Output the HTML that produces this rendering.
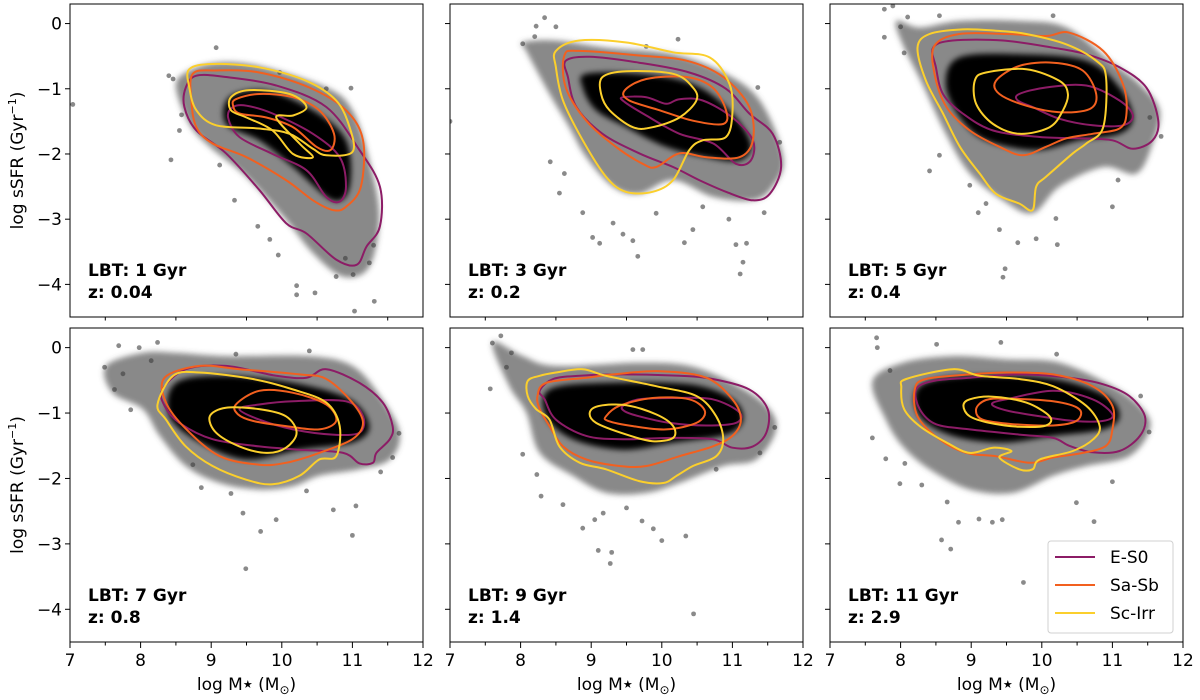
<!DOCTYPE html>
<html><head><meta charset="utf-8"><title>sSFR vs stellar mass</title>
<style>
html,body{margin:0;padding:0;background:#fff;}
svg{display:block;font-family:"DejaVu Sans","Liberation Sans",sans-serif;}
</style></head>
<body>
<svg id="fig" width="1200" height="700" viewBox="0 0 1200 700" xmlns="http://www.w3.org/2000/svg">
<defs><filter id="soft" x="-10%" y="-10%" width="120%" height="120%"><feGaussianBlur stdDeviation="3"/></filter></defs>
</svg>
<script>
// ---- axis ticks ----
const xTicks = [7, 8, 9, 10, 11, 12];
const xMinor = [7.5, 8.5, 9.5, 10.5, 11.5];
const yTicks = [0, -1, -2, -3, -4];
const xDomain = [7, 12];
const yDomain = [-4.5, 0.3];
const seriesNames = ["E-S0", "Sa-Sb", "Sc-Irr"];
const lbtLabels = ["LBT: 1 Gyr", "LBT: 3 Gyr", "LBT: 5 Gyr", "LBT: 7 Gyr", "LBT: 9 Gyr", "LBT: 11 Gyr"];
const zLabels = ["z: 0.04", "z: 0.2", "z: 0.4", "z: 0.8", "z: 1.4", "z: 2.9"];

// ---- panel 1 ----
const p1Cloud = [8.64,-0.75, 9.07,-0.60, 9.68,-0.65, 10.63,-0.98, 11.0,-1.33, 11.24,-2.10, 11.38,-2.96, 11.24,-3.73, 10.87,-3.88, 10.44,-3.52, 10.06,-3.01, 9.5,-2.35, 8.98,-1.89, 8.69,-1.54, 8.5,-0.98];
const p1Core = [9.26,-1.13, 9.78,-1.03, 10.44,-1.33, 10.91,-1.79, 10.96,-2.50, 10.72,-2.71, 10.16,-2.2, 9.68,-1.79, 9.21,-1.54];
const p1Es0Out = [8.64,-0.98, 8.79,-0.80, 9.21,-0.82, 9.92,-0.95, 10.63,-1.28, 11.10,-1.94, 11.39,-2.50, 11.39,-3.11, 11.2,-3.42, 11.06,-3.70, 10.77,-3.62, 10.35,-3.22, 10.06,-3.06, 9.68,-2.55, 9.21,-1.99, 8.79,-1.64, 8.62,-1.28];
const p1Es0In = [9.31,-1.28, 9.50,-1.26, 9.87,-1.38, 10.44,-1.69, 10.82,-2.05, 10.91,-2.50, 10.82,-2.73, 10.63,-2.66, 10.35,-2.25, 9.87,-2.0, 9.40,-1.74, 9.24,-1.44];
const p1SaOut = [8.74,-0.77, 9.07,-0.72, 9.68,-0.75, 10.39,-0.98, 10.91,-1.33, 11.15,-1.79, 11.12,-2.50, 10.91,-2.81, 10.73,-2.86, 10.44,-2.71, 10.06,-2.40, 9.50,-2.05, 9.02,-1.84, 8.79,-1.59, 8.72,-1.18];
const p1SaIn = [9.35,-1.16, 9.68,-1.08, 10.16,-1.13, 10.53,-1.33, 10.74,-1.69, 10.69,-1.94, 10.49,-1.89, 10.16,-1.59, 9.78,-1.44, 9.40,-1.38, 9.31,-1.26];
const p1ScOut = [8.69,-0.70, 9.02,-0.62, 9.68,-0.67, 10.35,-0.88, 10.77,-1.18, 10.96,-1.59, 11.0,-1.97, 10.63,-2.02, 10.44,-1.92, 10.11,-1.69, 9.68,-1.61, 9.07,-1.56, 8.79,-1.33, 8.69,-0.98];
const p1ScIn = [9.28,-1.13, 9.54,-1.02, 10.11,-1.08, 10.35,-1.28, 10.16,-1.41, 9.92,-1.44, 10.25,-1.84, 10.44,-2.05, 10.16,-2.0, 9.87,-1.64, 9.50,-1.44, 9.28,-1.33];
const p1Pts = [9.07,-0.37, 7.04,-1.24, 8.43,-2.09, 9.12,-2.17, 9.33,-2.71, 9.66,-3.11, 9.83,-3.31, 9.95,-3.55, 10.21,-4.02, 10.21,-4.16, 10.47,-4.13, 11.01,-3.85, 11.31,-4.26, 11.03,-4.41, 10.77,-3.88, 11.24,-3.67, 8.55,-1.64, 8.46,-0.85, 9.97,-0.75, 10.63,-1.0, 10.98,-0.99, 8.40,-0.80, 8.58,-1.40, 10.90,-3.60, 11.30,-3.40];

// ---- panel 2 ----
const p2Cloud = [8.03,-0.29, 8.50,-0.26, 9.21,-0.37, 10.16,-0.47, 10.87,-0.75, 11.39,-1.18, 11.72,-2.05, 11.57,-2.50, 11.29,-2.71, 10.73,-2.66, 10.16,-2.40, 9.68,-2.61, 9.31,-2.50, 8.93,-2.05, 8.69,-1.59, 8.41,-1.08, 8.08,-0.42];
const p2Core = [8.93,-0.77, 9.68,-0.77, 10.44,-0.93, 10.96,-1.33, 11.26,-1.84, 11.10,-2.10, 10.63,-2.05, 10.06,-1.89, 9.50,-1.59, 9.07,-1.33, 8.88,-0.98];
const p2Es0Out = [8.64,-0.57, 8.98,-0.51, 9.68,-0.60, 10.39,-0.75, 10.91,-1.0, 11.24,-1.38, 11.57,-1.69, 11.69,-2.20, 11.53,-2.61, 11.29,-2.71, 10.91,-2.58, 10.53,-2.40, 10.16,-2.20, 9.68,-1.99, 9.16,-1.69, 8.79,-1.28, 8.67,-0.82];
const p2Es0In = [9.45,-1.13, 9.78,-1.13, 10.06,-1.23, 10.25,-1.16, 10.58,-1.18, 11.0,-1.44, 11.29,-1.79, 11.26,-2.10, 11.05,-2.15, 10.73,-1.84, 10.25,-1.69, 9.78,-1.41, 9.47,-1.20];
const p2SaOut = [8.62,-0.49, 8.83,-0.42, 9.68,-0.49, 10.35,-0.57, 10.87,-0.82, 11.24,-1.28, 11.29,-1.79, 11.10,-2.05, 10.63,-2.05, 10.25,-1.99, 9.92,-2.20, 9.73,-2.15, 9.35,-1.89, 8.93,-1.49, 8.64,-0.98];
const p2SaIn = [9.47,-1.03, 9.78,-0.85, 10.35,-0.82, 10.72,-0.98, 10.91,-1.33, 10.87,-1.54, 10.44,-1.49, 9.97,-1.33, 9.54,-1.18];
const p2ScOut = [8.50,-0.42, 8.83,-0.26, 9.50,-0.29, 10.16,-0.44, 10.68,-0.52, 10.96,-0.93, 11.0,-1.38, 10.91,-1.74, 10.58,-1.79, 10.39,-1.94, 10.16,-2.40, 9.87,-2.58, 9.49,-2.58, 9.21,-2.35, 8.88,-1.79, 8.60,-1.18, 8.50,-0.67];
const p2ScIn = [9.16,-0.82, 9.50,-0.73, 10.16,-0.77, 10.44,-0.98, 10.49,-1.18, 10.25,-1.44, 9.87,-1.59, 9.59,-1.59, 9.26,-1.33, 9.14,-1.08];
const p2Pts = [8.34,0.09, 8.22,-0.04, 8.50,-0.05, 8.03,-0.31, 7.0,-1.5, 8.42,-2.12, 8.55,-2.6, 8.88,-2.9, 9.02,-3.28, 9.12,-3.37, 9.45,-3.23, 9.66,-3.57, 9.59,-3.33, 10.32,-3.36, 10.44,-3.16, 11.05,-3.39, 11.15,-3.66, 11.11,-3.84, 11.2,-3.37, 11.36,-0.98, 11.67,-1.82, 10.23,-0.24, 9.78,-0.35, 9.31,-3.06, 9.92,-2.91, 10.58,-2.81, 8.20,-0.20, 8.62,-2.30, 11.45,-2.90, 10.95,-3.0];

// ---- panel 3 ----
const p3Cloud = [7.94,0.04, 8.27,-0.06, 8.84,0.04, 9.68,0.04, 10.35,-0.06, 10.96,-0.57, 11.39,-0.93, 11.67,-1.33, 11.57,-1.84, 11.34,-2.30, 10.87,-2.20, 10.25,-2.50, 9.87,-2.91, 9.45,-2.71, 8.98,-2.30, 8.64,-1.69, 8.31,-0.93, 8.03,-0.32];
const p3Core = [8.83,-0.52, 9.68,-0.47, 10.63,-0.57, 11.10,-0.98, 11.29,-1.44, 11.10,-1.69, 10.53,-1.79, 9.92,-1.94, 9.21,-1.79, 8.84,-1.44, 8.64,-0.93];
const p3Es0Out = [8.46,-0.37, 8.74,-0.26, 9.45,-0.26, 10.16,-0.37, 10.63,-0.47, 11.10,-0.67, 11.48,-0.98, 11.65,-1.49, 11.57,-1.79, 11.29,-1.92, 11.0,-1.79, 10.53,-1.76, 9.97,-1.74, 9.31,-1.64, 8.88,-1.38, 8.60,-1.08, 8.50,-0.67];
const p3Es0In = [9.68,-1.08, 10.06,-0.98, 10.63,-0.95, 11.10,-1.18, 11.29,-1.41, 11.15,-1.56, 10.72,-1.56, 10.25,-1.46, 9.87,-1.28, 9.66,-1.18];
const p3SaOut = [8.48,-0.34, 8.83,-0.16, 9.50,-0.16, 10.06,-0.19, 10.39,-0.14, 10.87,-0.42, 11.15,-0.93, 11.20,-1.38, 11.10,-1.61, 10.72,-1.69, 10.35,-1.76, 10.06,-1.89, 9.73,-2.02, 9.40,-1.89, 8.98,-1.64, 8.65,-1.28, 8.48,-0.77];
const p3SaIn = [9.35,-0.88, 9.68,-0.65, 10.16,-0.60, 10.58,-0.72, 10.77,-1.08, 10.68,-1.31, 10.25,-1.36, 9.78,-1.26, 9.40,-1.08];
const p3ScOut = [8.24,-0.37, 8.41,-0.16, 8.88,-0.09, 9.35,-0.11, 9.78,-0.16, 10.35,-0.32, 10.77,-0.57, 10.91,-0.82, 10.87,-1.59, 10.63,-1.84, 10.44,-1.99, 10.06,-2.35, 9.92,-2.50, 9.87,-2.86, 9.68,-2.76, 9.35,-2.61, 9.12,-2.30, 8.84,-1.89, 8.60,-1.38, 8.36,-0.88];
const p3ScIn = [9.05,-0.88, 9.21,-0.75, 9.78,-0.70, 10.25,-0.88, 10.37,-1.08, 10.30,-1.33, 10.11,-1.59, 9.68,-1.69, 9.31,-1.54, 9.07,-1.23];
const p3Pts = [7.77,0.22, 7.89,0.27, 7.77,-0.21, 8.05,-0.45, 8.41,-2.26, 8.55,-2.02, 8.98,-2.48, 9.40,-3.16, 9.66,-3.36, 9.48,-3.76, 9.45,-3.89, 10.22,-3.39, 9.92,-3.30, 10.20,-2.99, 11.0,-2.81, 11.08,-2.40, 11.53,-1.44, 11.69,-1.73, 10.16,0.12, 8.55,0.12, 8.10,0.10, 9.21,-2.76, 8.00,-0.05, 9.10,-2.90];

// ---- panel 4 ----
const p4Cloud = [7.51,-0.28, 8.03,-0.08, 8.50,-0.08, 9.21,-0.13, 10.39,-0.13, 11.0,-0.28, 11.39,-0.74, 11.67,-1.30, 11.53,-1.71, 11.10,-1.86, 10.53,-1.96, 10.16,-2.12, 9.68,-2.17, 9.12,-2.07, 8.64,-1.81, 8.27,-1.35, 8.03,-0.94, 7.60,-0.69];
const p4Core = [8.50,-0.54, 9.21,-0.43, 10.16,-0.54, 10.96,-0.79, 11.24,-1.20, 11.0,-1.45, 10.25,-1.56, 9.50,-1.71, 8.84,-1.45, 8.41,-1.05];
const p4Es0Out = [8.31,-0.64, 8.64,-0.33, 9.21,-0.28, 9.92,-0.43, 10.35,-0.46, 10.63,-0.33, 11.10,-0.54, 11.43,-0.84, 11.57,-1.20, 11.53,-1.40, 11.34,-1.61, 11.29,-1.76, 11.10,-1.77, 10.87,-1.61, 10.25,-1.56, 9.68,-1.51, 9.02,-1.40, 8.55,-1.15, 8.34,-0.89];
const p4Es0In = [9.40,-0.94, 9.68,-0.87, 10.16,-0.82, 10.91,-0.82, 11.15,-1.05, 11.10,-1.30, 10.72,-1.33, 10.16,-1.25, 9.68,-1.10];
const p4SaOut = [8.34,-0.46, 8.83,-0.28, 9.40,-0.33, 10.25,-0.41, 10.63,-0.48, 11.0,-0.84, 11.15,-1.15, 11.0,-1.40, 10.53,-1.61, 10.06,-1.76, 9.68,-1.79, 9.12,-1.66, 8.65,-1.25, 8.36,-0.84];
const p4SaIn = [9.35,-0.87, 9.68,-0.66, 10.16,-0.69, 10.63,-0.87, 10.77,-1.12, 10.53,-1.25, 10.06,-1.20, 9.59,-1.12, 9.38,-1.02];
const p4ScOut = [8.24,-0.87, 8.46,-0.43, 8.83,-0.38, 9.59,-0.48, 10.16,-0.64, 10.63,-0.84, 10.82,-1.20, 10.77,-1.66, 10.53,-1.71, 10.25,-1.96, 9.87,-2.09, 9.50,-2.02, 9.02,-1.81, 8.64,-1.51, 8.36,-1.10];
const p4ScIn = [8.98,-1.05, 9.21,-0.92, 9.68,-0.94, 10.06,-1.05, 10.21,-1.30, 10.06,-1.53, 9.78,-1.61, 9.40,-1.51, 9.07,-1.30];
const p4Pts = [7.49,-0.30, 7.69,0.03, 7.98,0, 8.24,0.08, 7.63,-0.64, 7.86,-0.95, 8.74,-1.79, 8.86,-2.14, 9.28,-2.23, 9.45,-2.53, 9.70,-2.81, 9.49,-3.38, 9.92,-2.63, 10.35,-2.19, 10.73,-2.48, 11.0,-2.87, 11.05,-2.42, 11.57,-1.68, 11.66,-1.31, 10.39,-0.05, 9.35,-0.10, 7.75,-0.40, 8.15,-0.20, 11.40,-1.90];

// ---- panel 5 ----
const p5Cloud = [7.60,0.08, 8.03,-0.13, 8.50,-0.28, 9.68,-0.23, 10.39,-0.28, 11.0,-0.54, 11.48,-0.89, 11.62,-1.25, 11.34,-1.71, 10.87,-1.81, 10.25,-2.07, 9.78,-2.22, 9.21,-2.22, 8.74,-1.96, 8.27,-1.61, 8.08,-0.99, 7.84,-0.59];
const p5Core = [8.41,-0.64, 9.21,-0.54, 10.39,-0.56, 11.0,-0.79, 11.15,-1.10, 10.91,-1.33, 10.16,-1.45, 9.45,-1.56, 8.74,-1.40, 8.36,-1.05];
const p5Es0Out = [8.27,-0.66, 8.46,-0.48, 8.84,-0.43, 9.45,-0.41, 10.25,-0.43, 10.72,-0.48, 11.24,-0.64, 11.50,-0.94, 11.48,-1.30, 11.29,-1.51, 11.0,-1.53, 10.72,-1.40, 10.16,-1.38, 9.45,-1.40, 8.93,-1.35, 8.50,-1.10, 8.34,-0.79];
const p5Es0In = [9.45,-0.89, 9.68,-0.79, 10.16,-0.77, 10.72,-0.79, 11.10,-0.99, 11.05,-1.15, 10.63,-1.19, 10.11,-1.15, 9.68,-1.05, 9.47,-0.97];
const p5SaOut = [8.24,-0.74, 8.36,-0.54, 8.93,-0.46, 9.31,-0.41, 9.97,-0.36, 10.63,-0.46, 11.0,-0.79, 11.12,-1.10, 11.0,-1.35, 10.72,-1.51, 10.25,-1.66, 9.78,-1.81, 9.40,-1.81, 8.93,-1.71, 8.60,-1.51, 8.41,-1.20, 8.27,-0.94];
const p5SaIn = [9.21,-1.05, 9.40,-0.89, 9.87,-0.77, 10.39,-0.79, 10.61,-0.97, 10.49,-1.15, 10.06,-1.25, 9.59,-1.20, 9.24,-1.12];
const p5ScOut = [8.10,-0.51, 8.27,-0.43, 8.50,-0.38, 8.88,-0.33, 9.21,-0.43, 9.92,-0.59, 10.49,-0.74, 10.77,-1.05, 10.87,-1.40, 10.77,-1.66, 10.44,-1.81, 10.21,-1.96, 10.02,-2.07, 9.68,-2.04, 9.21,-1.86, 8.84,-1.76, 8.55,-1.51, 8.41,-1.10, 8.22,-0.94, 8.10,-0.74];
const p5ScIn = [8.98,-0.99, 9.12,-0.89, 9.50,-0.88, 9.92,-1.02, 10.16,-1.20, 10.16,-1.38, 9.87,-1.43, 9.50,-1.33, 9.07,-1.15];
const p5Pts = [7.72,0.18, 7.60,0.07, 7.57,-0.63, 7.87,-0.08, 8.03,-1.63, 8.23,-1.94, 8.29,-2.27, 8.88,-2.76, 9.05,-2.63, 9.10,-3.10, 9.27,-3.30, 9.29,-3.13, 9.17,-2.53, 9.72,-2.65, 9.88,-2.77, 10.0,-2.95, 10.34,-2.88, 10.45,-4.07, 9.59,-0.03, 9.73,-0.03, 10.77,-1.86, 11.39,-1.61, 11.60,-1.22, 7.80,-0.30, 8.60,-2.40, 9.50,-2.45];

// ---- panel 6 ----
const p6Cloud = [7.60,-0.51, 8.03,-0.23, 8.74,-0.13, 9.50,-0.18, 10.25,-0.23, 11.0,-0.59, 11.43,-0.94, 11.53,-1.25, 11.24,-1.66, 10.63,-1.81, 10.16,-1.96, 9.59,-2.22, 8.98,-2.17, 8.41,-1.86, 8.03,-1.51, 7.79,-1.10];
const p6Core = [8.27,-0.59, 8.98,-0.43, 10.16,-0.48, 10.91,-0.74, 11.10,-1.05, 10.87,-1.25, 10.16,-1.35, 9.45,-1.45, 8.74,-1.35, 8.27,-1.05];
const p6Es0Out = [8.22,-0.64, 8.46,-0.51, 8.98,-0.46, 9.68,-0.41, 10.39,-0.46, 10.87,-0.56, 11.24,-0.74, 11.46,-1.05, 11.39,-1.35, 11.10,-1.58, 10.72,-1.60, 10.39,-1.50, 10.16,-1.38, 9.68,-1.33, 8.98,-1.25, 8.50,-1.17, 8.27,-0.94];
const p6Es0In = [9.31,-0.84, 9.50,-0.79, 10.16,-0.66, 10.72,-0.79, 11.0,-1.02, 10.87,-1.12, 10.44,-1.12, 9.97,-1.05, 9.54,-0.97, 9.33,-0.90];
const p6SaOut = [8.20,-0.64, 8.36,-0.48, 8.98,-0.41, 9.50,-0.38, 10.16,-0.41, 10.72,-0.59, 11.0,-0.89, 11.0,-1.25, 10.91,-1.50, 10.58,-1.61, 10.16,-1.68, 9.83,-1.76, 9.35,-1.66, 8.93,-1.61, 8.55,-1.40, 8.24,-1.05];
const p6SaIn = [9.07,-0.94, 9.21,-0.80, 9.50,-0.78, 10.16,-0.82, 10.53,-0.94, 10.49,-1.12, 10.16,-1.19, 9.59,-1.17, 9.16,-1.10];
const p6ScOut = [8.01,-0.61, 8.08,-0.48, 8.74,-0.33, 9.12,-0.43, 9.68,-0.48, 10.16,-0.59, 10.63,-0.89, 10.82,-1.20, 10.73,-1.40, 10.44,-1.58, 9.97,-1.71, 9.87,-1.86, 9.68,-1.86, 9.40,-1.68, 9.57,-1.58, 9.31,-1.53, 8.98,-1.61, 8.65,-1.45, 8.27,-1.20, 8.05,-0.94];
const p6ScIn = [8.89,-0.89, 8.98,-0.79, 9.31,-0.75, 9.78,-0.84, 10.11,-1.05, 10.06,-1.19, 9.68,-1.21, 9.26,-1.15, 8.98,-1.05];
const p6Pts = [7.66,0.15, 7.67,0, 7.60,-1.38, 7.79,-1.70, 7.99,-2.08, 8.06,-1.77, 8.58,-2.94, 8.71,-3.08, 8.66,-2.36, 8.82,-2.67, 9.11,-2.62, 9.30,-2.67, 9.44,-2.63, 9.74,-3.59, 10.74,-2.66, 11.0,-2.05, 10.49,-2.37, 8.51,0.05, 9.42,0.08, 10.21,-0.10, 11.40,-0.74, 11.52,-1.29, 7.85,-0.35, 8.30,-2.10];

const colors = ["#8c1c66", "#f2601f", "#fbcf2c"];
const panels = [
  {cloud:p1Cloud, core:p1Core, pts:p1Pts, c:[[p1Es0Out,p1Es0In],[p1SaOut,p1SaIn],[p1ScOut,p1ScIn]]},
  {cloud:p2Cloud, core:p2Core, pts:p2Pts, c:[[p2Es0Out,p2Es0In],[p2SaOut,p2SaIn],[p2ScOut,p2ScIn]]},
  {cloud:p3Cloud, core:p3Core, pts:p3Pts, c:[[p3Es0Out,p3Es0In],[p3SaOut,p3SaIn],[p3ScOut,p3ScIn]]},
  {cloud:p4Cloud, core:p4Core, pts:p4Pts, c:[[p4Es0Out,p4Es0In],[p4SaOut,p4SaIn],[p4ScOut,p4ScIn]]},
  {cloud:p5Cloud, core:p5Core, pts:p5Pts, c:[[p5Es0Out,p5Es0In],[p5SaOut,p5SaIn],[p5ScOut,p5ScIn]]},
  {cloud:p6Cloud, core:p6Core, pts:p6Pts, c:[[p6Es0Out,p6Es0In],[p6SaOut,p6SaIn],[p6ScOut,p6ScIn]]}
];

const NS = "http://www.w3.org/2000/svg";
const svg = document.getElementById("fig");
const colL = [70, 450, 830], colR = [423, 803, 1183];
const rowT = [4, 328], rowB = [317, 642];

function mk(tag, attrs, parent) {
  const e = document.createElementNS(NS, tag);
  for (const k in attrs) e.setAttribute(k, attrs[k]);
  parent.appendChild(e);
  return e;
}
function smooth(pts) {
  const n = pts.length;
  let d = "M" + pts[0][0].toFixed(1) + "," + pts[0][1].toFixed(1);
  for (let i = 0; i < n; i++) {
    const p0 = pts[(i - 1 + n) % n], p1 = pts[i], p2 = pts[(i + 1) % n], p3 = pts[(i + 2) % n];
    const c1x = p1[0] + (p2[0] - p0[0]) / 6, c1y = p1[1] + (p2[1] - p0[1]) / 6;
    const c2x = p2[0] - (p3[0] - p1[0]) / 6, c2y = p2[1] - (p3[1] - p1[1]) / 6;
    d += "C" + c1x.toFixed(1) + "," + c1y.toFixed(1) + " " + c2x.toFixed(1) + "," + c2y.toFixed(1) + " " + p2[0].toFixed(1) + "," + p2[1].toFixed(1);
  }
  return d + "Z";
}

panels.forEach((p, i) => {
  const r = Math.floor(i / 3), c = i % 3;
  const L = colL[c], R = colR[c], T = rowT[r], B = rowB[r];
  const sx = v => L + (v - xDomain[0]) / (xDomain[1] - xDomain[0]) * (R - L);
  const sy = v => T + (yDomain[1] - v) / (yDomain[1] - yDomain[0]) * (B - T);
  const toPts = arr => { const o = []; for (let k = 0; k < arr.length; k += 2) o.push([sx(arr[k]), sy(arr[k + 1])]); return o; };

  const g = mk("g", {}, svg);
  
  
  const clipId = "clip" + i;
  const cp = mk("clipPath", {id: clipId}, g);
  mk("rect", {x: L, y: T, width: R - L, height: B - T}, cp);
  const plot = mk("g", {"clip-path": "url(#" + clipId + ")"}, g);

  const cloud = mk("path", {d: smooth(toPts(p.cloud)), fill: "#505050", "fill-opacity": "0.68", filter: "url(#soft)"}, plot);
  
  
  const core = mk("path", {d: smooth(toPts(p.core)), fill: "#060606", filter: "url(#soft)"}, plot);
  
  
  for (let k = 0; k < p.pts.length; k += 2) {
    const dot = mk("circle", {cx: sx(p.pts[k]), cy: sy(p.pts[k + 1]), r: 2.4, fill: "#3c3c3c", "fill-opacity": "0.6"}, plot);
    
    
  }
  p.c.forEach((lv, s) => {
    lv.forEach((arr, li) => {
      const path = mk("path", {d: smooth(toPts(arr)), fill: "none", stroke: colors[s], "stroke-width": 2, "stroke-linejoin": "round"}, plot);
      
      
    });
  });

  const frame = mk("rect", {x: L, y: T, width: R - L, height: B - T, fill: "none", stroke: "#000", "stroke-width": 1}, g);
  
  

  yTicks.forEach(v => {
    mk("line", {x1: L - 5, x2: L, y1: sy(v), y2: sy(v), stroke: "#000", "stroke-width": 1}, g);
    if (c === 0) {
      const t = mk("text", {x: L - 8, y: sy(v) + 6, "text-anchor": "end", "font-size": 17, fill: "#000"}, g);
      t.textContent = v === 0 ? "0" : "\u2212" + Math.abs(v);
      
      
    }
  });
  xMinor.forEach(v => {
    mk("line", {x1: sx(v), x2: sx(v), y1: B, y2: B + 3.5, stroke: "#000", "stroke-width": 1}, g);
  });
  if (r === 1) {
    xTicks.forEach(v => {
      mk("line", {x1: sx(v), x2: sx(v), y1: B, y2: B + 6, stroke: "#000", "stroke-width": 1}, g);
      const t = mk("text", {x: sx(v), y: B + 24, "text-anchor": "middle", "font-size": 17, fill: "#000"}, g);
      t.textContent = String(v);
      
      
    });
    const xl = mk("text", {x: (L + R) / 2, y: 690, "text-anchor": "middle", "font-size": 17, fill: "#000"}, g);
    xl.innerHTML = 'log M<tspan font-size="11" dy="-2">\u2605</tspan><tspan dy="2"> (M</tspan><tspan font-size="12" dy="4">\u2299</tspan><tspan dy="-4">)</tspan>';
    
    
  }
  if (c === 0) {
    const cy = (T + B) / 2;
    const yl = mk("text", {x: 0, y: 0, transform: "translate(23," + cy + ") rotate(-90)", "text-anchor": "middle", "font-size": 17, fill: "#000"}, g);
    yl.innerHTML = 'log sSFR (Gyr<tspan font-size="11" dy="-7">\u22121</tspan><tspan dy="7">)</tspan>';
    
    
  }
  const l1 = mk("text", {x: L + 18, y: B - 41, "font-size": 17, "font-weight": "bold", fill: "#000"}, g);
  l1.textContent = lbtLabels[i];
  
  
  const l2 = mk("text", {x: L + 18, y: B - 19, "font-size": 17, "font-weight": "bold", fill: "#000"}, g);
  l2.textContent = zLabels[i];
  
  
});

// legend
const lg = mk("g", {}, svg);


mk("rect", {x: 1048, y: 541, width: 125, height: 92, rx: 3, fill: "#fff", "fill-opacity": "0.85", stroke: "#d0d0d0", "stroke-width": 1}, lg);
seriesNames.forEach((n, s) => {
  const y = 557 + s * 28;
  const ln = mk("line", {x1: 1055, x2: 1095, y1: y, y2: y, stroke: colors[s], "stroke-width": 2}, lg);
  
  
  const t = mk("text", {x: 1110, y: y + 6, "font-size": 17, fill: "#000"}, lg);
  t.textContent = n;
  
  
});
</script>
</body></html>
